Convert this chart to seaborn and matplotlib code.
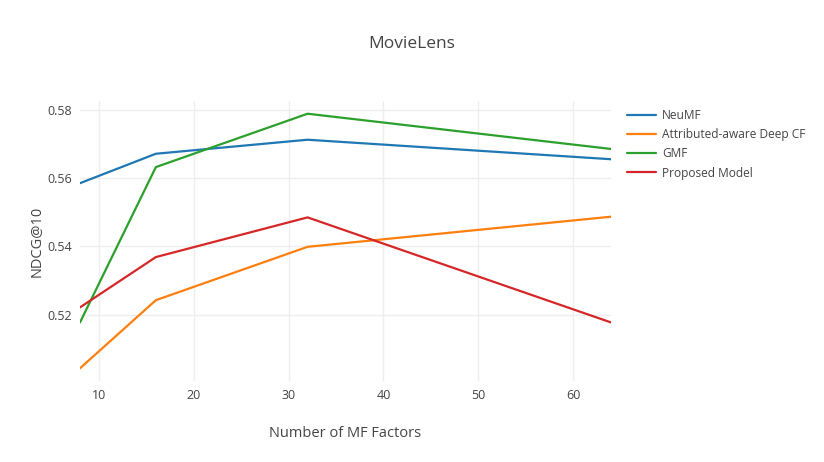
import pandas as pd
import matplotlib
matplotlib.use('Agg')
import matplotlib.pyplot as plt
import seaborn as sns

# data
factors = [8, 16, 32, 64]
neumf = [0.5585, 0.5671, 0.5712, 0.5655]
adcf = [0.5044, 0.5243, 0.5399, 0.5487]
gmf = [0.5178, 0.5632, 0.5788, 0.5685]
proposed = [0.5222, 0.5369, 0.5485, 0.5178]
models = ['NeuMF', 'Attributed-aware Deep CF', 'GMF', 'Proposed Model']
colors = ['#1f77b4', '#ff7f0e', '#2ca02c', '#d62728']

rows = []
for name, vals in zip(models, [neumf, adcf, gmf, proposed]):
    for f, v in zip(factors, vals):
        rows.append({'factors': f, 'ndcg': v, 'model': name})
df = pd.DataFrame(rows)

sns.set_style('white')
plt.rcParams['font.family'] = ['Open Sans', 'DejaVu Sans']
txt = '#444444'

fig = plt.figure(figsize=(8.24, 4.62), dpi=100)
ax = fig.add_axes([80 / 824, 1 - 381 / 462, 531 / 824, 280 / 462])

sns.lineplot(data=df, x='factors', y='ndcg', hue='model', hue_order=models,
             palette=colors, linewidth=1.6, ax=ax, legend=True)

ax.set_xlim(8, 64)
lo, hi = min(adcf), max(gmf)
pad = 0.05 * (hi - lo)
ax.set_ylim(lo - pad, hi + pad)
ax.set_xticks([10, 20, 30, 40, 50, 60])
ax.set_yticks([0.52, 0.54, 0.56, 0.58])
ax.grid(True, color='#eeeeee', linewidth=1)
ax.set_axisbelow(True)
for s in ax.spines.values():
    s.set_visible(False)
ax.tick_params(length=0, labelsize=9, colors=txt, pad=6)

ax.set_xlabel('Number of MF Factors', fontsize=10.5, color=txt, labelpad=17)
ax.set_ylabel('NDCG@10', fontsize=10.5, color=txt, labelpad=2)
fig.text(0.5, 1 - 44 / 462, 'MovieLens', ha='center', va='center', fontsize=12.5, color=txt)

handles, labels = ax.get_legend_handles_labels()
ax.legend(handles, labels, loc='upper left', bbox_to_anchor=(627 / 824, 1 - 109 / 462),
          bbox_transform=fig.transFigure, frameon=False, fontsize=8.6, labelcolor=txt,
          handlelength=2.4, handletextpad=0.55, labelspacing=0.52, borderpad=0, borderaxespad=0)

fig.savefig('out.png', dpi=100)
